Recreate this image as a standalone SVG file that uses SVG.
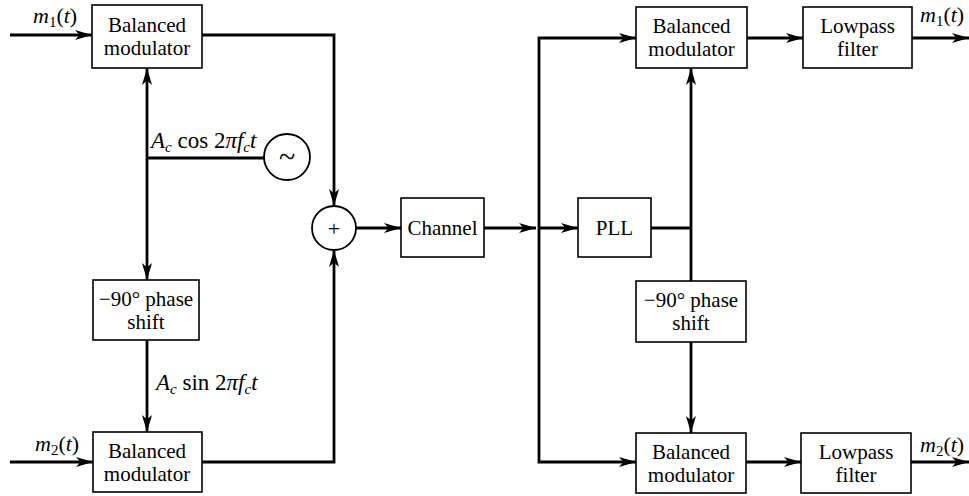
<svg xmlns="http://www.w3.org/2000/svg" width="969" height="496" viewBox="0 0 969 496">
<style>
.box{fill:#fff;stroke:#000;stroke-width:1.6}
.ln{fill:none;stroke:#000;stroke-width:2.8}
.t{font-family:"Liberation Serif","Times New Roman",serif;font-size:21px;fill:#000;text-anchor:middle}
.lb{font-family:"Liberation Serif","Times New Roman",serif;font-size:22px;fill:#000}
.i{font-style:italic}
</style>
<defs>
<marker id="ah" markerUnits="userSpaceOnUse" markerWidth="18" markerHeight="11" refX="17" refY="5" orient="auto" overflow="visible">
<path d="M0,0 L17,5 L0,10 L4.5,5 z" fill="#000"/>
</marker>
</defs>
<rect width="969" height="496" fill="#fff"/>
<g id="connectors">
<path class="ln" d="M10,35 L92,35" marker-end="url(#ah)"/>
<path class="ln" d="M202,35 L334,35 L334,206" marker-end="url(#ah)"/>
<path class="ln" d="M147,158 L147,68" marker-end="url(#ah)"/>
<path class="ln" d="M147,158 L147,280" marker-end="url(#ah)"/>
<path class="ln" d="M147,158 L264,158"/>
<path class="ln" d="M147,340 L147,432" marker-end="url(#ah)"/>
<path class="ln" d="M10,462 L93,462" marker-end="url(#ah)"/>
<path class="ln" d="M202,462 L334,462 L334,250" marker-end="url(#ah)"/>
<path class="ln" d="M356,228 L401,228" marker-end="url(#ah)"/>
<path class="ln" d="M484,228 L536,228" marker-end="url(#ah)"/>
<path class="ln" d="M539,228 L578,228" marker-end="url(#ah)"/>
<path class="ln" d="M539,228 L539,38 L636,38" marker-end="url(#ah)"/>
<path class="ln" d="M539,228 L539,462 L636,462" marker-end="url(#ah)"/>
<path class="ln" d="M747,38 L803,38" marker-end="url(#ah)"/>
<path class="ln" d="M912,38 L969,38" marker-end="url(#ah)"/>
<path class="ln" d="M651,228 L691,228"/>
<path class="ln" d="M691,228 L691,68" marker-end="url(#ah)"/>
<path class="ln" d="M691,228 L691,281"/>
<path class="ln" d="M691,342 L691,433" marker-end="url(#ah)"/>
<path class="ln" d="M746,462 L801,462" marker-end="url(#ah)"/>
<path class="ln" d="M911,462 L969,462" marker-end="url(#ah)"/>
</g>
<g id="bm1">
<rect class="box" x="92" y="5" width="110" height="63"/>
<text class="t" x="147" y="32">Balanced</text>
<text class="t" x="147" y="55">modulator</text>
</g>
<g id="osc">
<circle cx="287" cy="157" r="23" fill="#fff" stroke="#000" stroke-width="1.8"/>
<text class="t" x="287" y="167" style="font-size:30px">~</text>
</g>
<g id="ps1">
<rect class="box" x="93" y="280" width="106" height="60"/>
<text class="t" x="146" y="306">−90° phase</text>
<text class="t" x="146" y="329">shift</text>
</g>
<g id="bm2">
<rect class="box" x="93" y="432" width="109" height="60"/>
<text class="t" x="147" y="458">Balanced</text>
<text class="t" x="147" y="481">modulator</text>
</g>
<g id="sum">
<circle cx="334" cy="228" r="22" fill="#fff" stroke="#000" stroke-width="1.8"/>
<text class="t" x="334" y="236" style="font-size:22px">+</text>
</g>
<g id="channel">
<rect class="box" x="401" y="198" width="83" height="59"/>
<text class="t" x="442.5" y="235">Channel</text>
</g>
<g id="pll">
<rect class="box" x="578" y="198" width="73" height="59"/>
<text class="t" x="614.5" y="235">PLL</text>
</g>
<g id="bm3">
<rect class="box" x="636" y="7" width="111" height="61"/>
<text class="t" x="691.5" y="33">Balanced</text>
<text class="t" x="691.5" y="56">modulator</text>
</g>
<g id="lp1">
<rect class="box" x="803" y="7" width="109" height="61"/>
<text class="t" x="857.5" y="33">Lowpass</text>
<text class="t" x="857.5" y="56">filter</text>
</g>
<g id="ps2">
<rect class="box" x="636" y="281" width="110" height="61"/>
<text class="t" x="691" y="307">−90° phase</text>
<text class="t" x="691" y="330">shift</text>
</g>
<g id="bm4">
<rect class="box" x="636" y="433" width="110" height="60"/>
<text class="t" x="691" y="459">Balanced</text>
<text class="t" x="691" y="482">modulator</text>
</g>
<g id="lp2">
<rect class="box" x="801" y="433" width="110" height="60"/>
<text class="t" x="856" y="459">Lowpass</text>
<text class="t" x="856" y="482">filter</text>
</g>
<g id="labels">
<text class="lb" x="33" y="23"><tspan class="i">m</tspan><tspan font-size="15" dy="4">1</tspan><tspan dy="-4">(</tspan><tspan class="i">t</tspan>)</text>
<text class="lb" x="35" y="451"><tspan class="i">m</tspan><tspan font-size="15" dy="4">2</tspan><tspan dy="-4">(</tspan><tspan class="i">t</tspan>)</text>
<text class="lb" x="920" y="22"><tspan class="i">m</tspan><tspan font-size="15" dy="4">1</tspan><tspan dy="-4">(</tspan><tspan class="i">t</tspan>)</text>
<text class="lb" x="920" y="452"><tspan class="i">m</tspan><tspan font-size="15" dy="4">2</tspan><tspan dy="-4">(</tspan><tspan class="i">t</tspan>)</text>
<text class="lb" x="151" y="148" style="font-size:23px"><tspan class="i">A</tspan><tspan font-size="15" class="i" dy="4">c</tspan><tspan dy="-4"> cos 2</tspan><tspan class="i">πf</tspan><tspan font-size="15" class="i" dy="4">c</tspan><tspan class="i" dy="-4">t</tspan></text>
<text class="lb" x="156" y="390" style="font-size:23px"><tspan class="i">A</tspan><tspan font-size="15" class="i" dy="4">c</tspan><tspan dy="-4"> sin 2</tspan><tspan class="i">πf</tspan><tspan font-size="15" class="i" dy="4">c</tspan><tspan class="i" dy="-4">t</tspan></text>
</g>
</svg>
